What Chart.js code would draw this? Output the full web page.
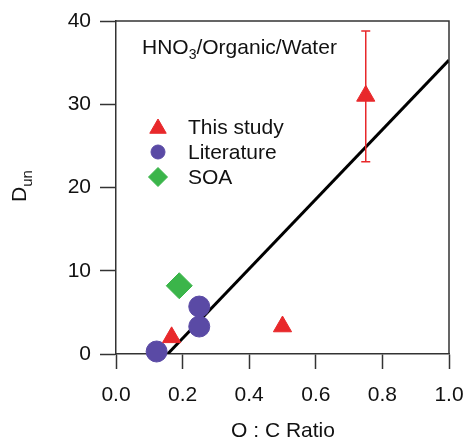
<!DOCTYPE html>
<html>
<head>
<meta charset="utf-8">
<script src="https://cdn.jsdelivr.net/npm/chart.js@4"></script>
<style>
  html, body { margin: 0; padding: 0; background: #fff; }
  #wrap { width: 465px; height: 439px; }
</style>
</head>
<body>
<div id="wrap"><canvas id="myChart" width="465" height="439"></canvas></div>
<script>
// values
var studyX = [0.167, 0.5, 0.75];
var studyY = [2.0, 3.3, 31.0];
var studyErrLow = [null, null, 23.1];
var studyErrHigh = [null, null, 38.8];
var litX = [0.122, 0.25, 0.25];
var litY = [0.3, 5.7, 3.3];
var soaX = [0.19];
var soaY = [8.2];
var fitX = [0.155, 1.0];
var fitY = [0.0, 35.3];
var xTicks = [0, 0.2, 0.4, 0.6, 0.8, 1.0];
var yTicks = [0, 10, 20, 30, 40];

var red = "#e8282b", purple = "#5a4aa5", green = "#3bb54a";
var font = "'Liberation Sans', Arial, sans-serif";

function pts(xs, ys){
  return xs.map(function(x, i){ return {x: x, y: ys[i]}; });
}

var extras = {
  id: "extras",
  afterDatasetsDraw: function(chart){
    var ctx = chart.ctx, a = chart.chartArea;
    var sx = chart.scales.x, sy = chart.scales.y;
    ctx.save();
    // error bars
    ctx.strokeStyle = red;
    ctx.lineWidth = 1.5;
    for (var i = 0; i < studyX.length; i++) {
      if (studyErrLow[i] == null) continue;
      var px = sx.getPixelForValue(studyX[i]);
      var lo = sy.getPixelForValue(studyErrLow[i]);
      var hi = sy.getPixelForValue(studyErrHigh[i]);
      ctx.beginPath();
      ctx.moveTo(px, lo); ctx.lineTo(px, hi);
      ctx.moveTo(px - 4.5, lo); ctx.lineTo(px + 4.5, lo);
      ctx.moveTo(px - 4.5, hi); ctx.lineTo(px + 4.5, hi);
      ctx.stroke();
    }
    // frame top and right
    ctx.strokeStyle = "#333";
    ctx.lineWidth = 1.5;
    ctx.beginPath();
    ctx.moveTo(a.left, a.top); ctx.lineTo(a.right, a.top); ctx.lineTo(a.right, a.bottom);
    ctx.stroke();

    ctx.fillStyle = "#111";
    ctx.textBaseline = "alphabetic";
    // annotation
    ctx.font = "21px " + font;
    ctx.textAlign = "left";
    var t1 = "HNO";
    ctx.fillText(t1, 142, 54);
    var w = ctx.measureText(t1).width;
    ctx.font = "14px " + font;
    ctx.fillText("3", 142 + w, 59);
    var w2 = ctx.measureText("3").width;
    ctx.font = "21px " + font;
    ctx.fillText("/Organic/Water", 142 + w + w2, 54);

    // legend
    var items = [
      {label: "This study", style: "triangle", color: red, r: 9.5},
      {label: "Literature", style: "circle", color: purple, r: 7},
      {label: "SOA", style: "rectRot", color: green, r: 9.5}
    ];
    items.forEach(function(it, k){
      var y = 127 + k * 25;
      ctx.fillStyle = it.color;
      ctx.strokeStyle = it.color;
      ctx.lineWidth = 1;
      Chart.helpers.drawPoint(ctx, {pointStyle: it.style, radius: it.r, rotation: 0, borderWidth: 1}, 158, it.style == "triangle" ? y + 1.5 : y);
      ctx.fillStyle = "#111";
      ctx.font = "21px " + font;
      ctx.textBaseline = "middle";
      ctx.fillText(it.label, 188, y + 1);
    });

    // axis titles
    ctx.textBaseline = "alphabetic";
    ctx.textAlign = "center";
    ctx.font = "21px " + font;
    ctx.fillText("O : C Ratio", 283, 437);

    ctx.translate(26, 186);
    ctx.rotate(-Math.PI / 2);
    ctx.textAlign = "left";
    var dw = ctx.measureText("D").width;
    ctx.font = "15px " + font;
    var uw = ctx.measureText("un").width;
    var start = -(dw + uw) / 2;
    ctx.font = "21px " + font;
    ctx.fillText("D", start, 0);
    ctx.font = "15px " + font;
    ctx.fillText("un", start + dw, 6);
    ctx.restore();
  }
};

var ctx = document.getElementById("myChart");
var myChart = new Chart(ctx, {
  type: "scatter",
  data: {
    datasets: [
      {
        type: "line",
        label: "fit",
        data: pts(fitX, fitY),
        borderColor: "#000",
        borderWidth: 3,
        pointRadius: 0,
        fill: false,
        order: 3
      },
      {
        label: "This study",
        data: pts(studyX, studyY),
        pointStyle: "triangle",
        pointRadius: 10.5,
        backgroundColor: red,
        borderColor: red,
        borderWidth: 1,
        clip: false,
        order: 1
      },
      {
        label: "Literature",
        data: pts(litX, litY),
        pointStyle: "circle",
        pointRadius: 10.5,
        backgroundColor: purple,
        borderColor: purple,
        borderWidth: 1,
        clip: false,
        order: 2
      },
      {
        label: "SOA",
        data: pts(soaX, soaY),
        pointStyle: "rectRot",
        pointRadius: 13,
        backgroundColor: green,
        borderColor: green,
        borderWidth: 1,
        clip: false,
        order: 2
      }
    ]
  },
  options: {
    responsive: false,
    animation: false,
    events: [],
    layout: { padding: { left: 0, top: 21, right: 16, bottom: 0 } },
    plugins: {
      legend: { display: false },
      tooltip: { enabled: false }
    },
    scales: {
      x: {
        type: "linear",
        min: 0,
        max: 1,
        afterFit: function(scale){
          scale.height = 85;
          scale.paddingLeft = 0;
          scale.paddingRight = 0;
        },
        afterBuildTicks: function(scale){
          scale.ticks = xTicks.map(function(v){ return {value: v}; });
        },
        grid: { drawOnChartArea: false, drawTicks: true, tickLength: 15, tickWidth: 1.5, tickColor: "#333" },
        border: { display: true, color: "#333", width: 1.5 },
        ticks: {
          color: "#111",
          padding: 14,
          maxRotation: 0,
          font: { family: font, size: 21 },
          callback: function(v){ return v.toFixed(1); }
        }
      },
      y: {
        type: "linear",
        min: 0,
        max: 40,
        afterFit: function(scale){
          scale.width = 116;
          scale.paddingTop = 0;
          scale.paddingBottom = 0;
        },
        afterBuildTicks: function(scale){
          scale.ticks = yTicks.map(function(v){ return {value: v}; });
        },
        grid: { drawOnChartArea: false, drawTicks: true, tickLength: 16, tickWidth: 1.5, tickColor: "#333" },
        border: { display: true, color: "#333", width: 1.5 },
        ticks: {
          color: "#111",
          padding: 9,
          font: { family: font, size: 21 }
        }
      }
    }
  },
  plugins: [extras]
});
</script>
</body>
</html>
